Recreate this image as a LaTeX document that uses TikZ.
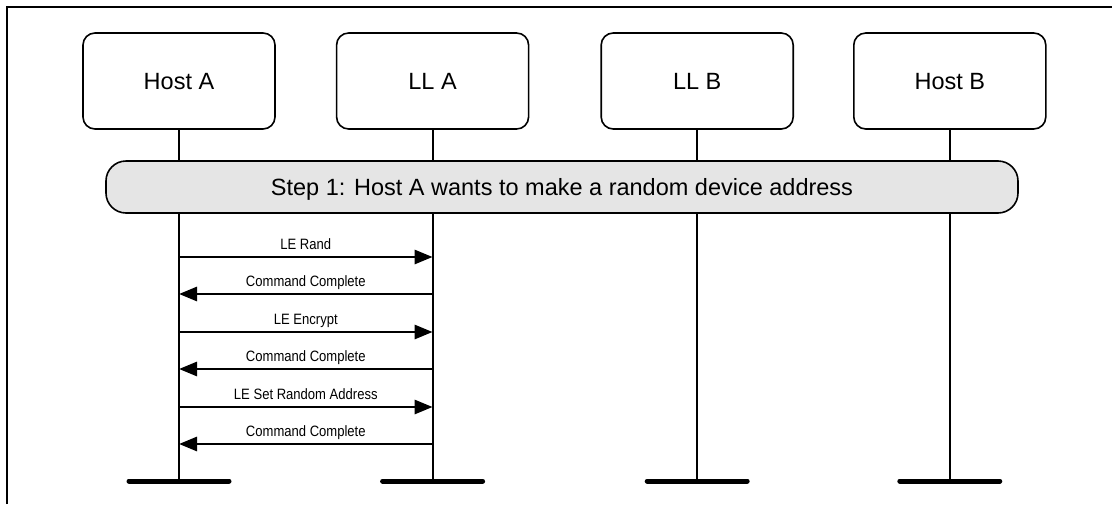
\documentclass[tikz,border=0pt]{standalone}
\usepackage{fontspec}
\setmainfont{Liberation Sans}
\newfontfamily\lblfont[FakeStretch=0.87]{Liberation Sans}
\usetikzlibrary{arrows.meta,positioning,calc}

\begin{document}
\begin{tikzpicture}[
x=1pt,y=1pt,
node distance=60pt,
party/.style={rectangle,draw,line width=1.6pt,rounded corners=12pt,minimum width=192pt,minimum height=96pt,text height=17pt,text depth=0pt,font=\fontsize{23.5}{28}\selectfont},
phase/.style={rectangle,draw,line width=1.6pt,rounded corners=20pt,fill=black!10,minimum width=912pt,minimum height=52pt,text height=17pt,text depth=0pt,font=\fontsize{23.5}{28}\selectfont},
life/.style={line width=1.8pt},
foot/.style={line width=5pt,line cap=round},
msg/.style={-{Triangle[length=18pt,width=14pt]},line width=2.8pt},
lbl/.style={anchor=base,yshift=7.5pt,inner sep=0pt,font=\lblfont\fontsize{15}{18}\selectfont}
]
\useasboundingbox (0,0) rectangle (1112,-504);
\draw[line width=2pt] (7,-504) -- (7,-7) -- (1112,-7);

\node[party] (hostA) at (179,-81) {Host A};
\node[party,right=60pt of hostA] (llA) {LL A};
\node[party,right=71pt of llA] (llB) {LL B};
\node[party,right=59pt of llB] (hostB) {Host B};

% lifelines
\coordinate (endA) at (hostA |- 0,-481);
\coordinate (endLA) at (llA |- 0,-481);
\coordinate (endLB) at (llB |- 0,-481);
\coordinate (endB) at (hostB |- 0,-481);
\draw[life] (hostA.south) -- (endA);
\draw[life] (llA.south) -- (endLA);
\draw[life] (llB.south) -- (endLB);
\draw[life] (hostB.south) -- (endB);
\draw[foot] ($(endA)+(-50,0)$) -- ($(endA)+(50,0)$);
\draw[foot] ($(endLA)+(-50,0)$) -- ($(endLA)+(50,0)$);
\draw[foot] ($(endLB)+(-50,0)$) -- ($(endLB)+(50,0)$);
\draw[foot] ($(endB)+(-50,0)$) -- ($(endB)+(50,0)$);

\node[phase] (step1) at (562,-187) {Step 1: Host A wants to make a random device address};

% messages
\coordinate (a1) at (hostA |- 0,-257); \coordinate (b1) at (llA |- 0,-257);
\coordinate (a2) at (hostA |- 0,-294); \coordinate (b2) at (llA |- 0,-294);
\coordinate (a3) at (hostA |- 0,-332); \coordinate (b3) at (llA |- 0,-332);
\coordinate (a4) at (hostA |- 0,-369); \coordinate (b4) at (llA |- 0,-369);
\coordinate (a5) at (hostA |- 0,-407); \coordinate (b5) at (llA |- 0,-407);
\coordinate (a6) at (hostA |- 0,-444); \coordinate (b6) at (llA |- 0,-444);

\draw[msg] (a1) -- node[lbl] (m1) {LE Rand} (b1);
\draw[msg] (b2) -- node[lbl] (m2) {Command Complete} (a2);
\draw[msg] (a3) -- node[lbl] (m3) {LE Encrypt} (b3);
\draw[msg] (b4) -- node[lbl] (m4) {Command Complete} (a4);
\draw[msg] (a5) -- node[lbl] (m5) {LE Set Random Address} (b5);
\draw[msg] (b6) -- node[lbl] (m6) {Command Complete} (a6);
\end{tikzpicture}
\end{document}
